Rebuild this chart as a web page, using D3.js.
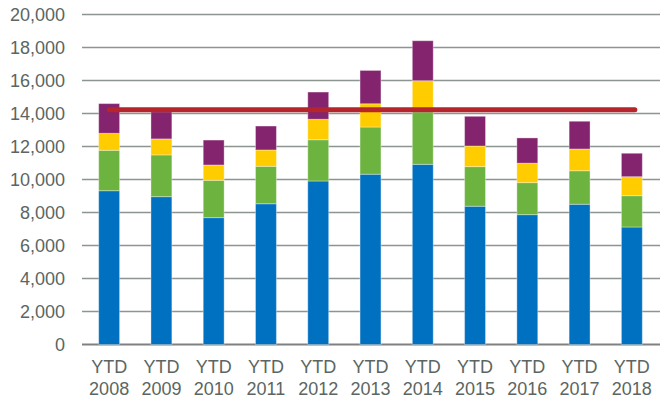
<!DOCTYPE html>
<html lang="en">
<head>
<meta charset="UTF-8">
<title>YTD stacked bars</title>
<script src="https://d3js.org/d3.v7.min.js"></script>
<style type="text/css">
    body { margin: 0; background: #fff; }
    text { font-family: "Liberation Sans", Arial, sans-serif; fill: #5b6662; }
</style>
</head>
<body>
<div id="chartArea"></div>
<script type="text/javascript">
    var years = ['2008', '2009', '2010', '2011', '2012', '2013', '2014', '2015', '2016', '2017', '2018'];
    // segment sizes, bottom to top
    var blue   = [9320, 8960, 7690, 8530, 9910, 10320, 10920, 8380, 7870, 8500, 7120];
    var green  = [2450, 2530, 2260, 2270, 2500, 2860, 3180, 2400, 1940, 2030, 1900];
    var yellow = [1030, 970, 930, 990, 1240, 1410, 1890, 1250, 1180, 1320, 1150];
    var purple = [1800, 1640, 1510, 1450, 1650, 2020, 2420, 1800, 1530, 1680, 1420];
    var average = 14230;
    var yTicks = [0, 2000, 4000, 6000, 8000, 10000, 12000, 14000, 16000, 18000, 20000];

    var colors = { blue: '#0070c0', green: '#6db33f', yellow: '#ffcc00', purple: '#84236e' };
    var keys = ['blue', 'green', 'yellow', 'purple'];

    var w = 660, h = 401;
    var plotLeft = 83, plotRight = 658, plotTop = 14.5, plotBottom = 344.5;

    var rows = years.map(function (y, i) {
        return { year: y, blue: blue[i], green: green[i], yellow: yellow[i], purple: purple[i] };
    });

    var svg = d3.select('#chartArea').append('svg')
        .attr('width', w)
        .attr('height', h);

    var xScale = d3.scaleBand()
        .domain(years)
        .range([plotLeft, plotRight])
        .paddingInner(0.6)
        .paddingOuter(0.3);

    var yScale = d3.scaleLinear()
        .domain([0, 20000])
        .range([plotBottom, plotTop]);

    // gridlines
    svg.append('g')
        .selectAll('line')
        .data(yTicks)
        .enter()
        .append('line')
        .attr('x1', plotLeft - 1)
        .attr('x2', w)
        .attr('y1', function (d) { return yScale(d); })
        .attr('y2', function (d) { return yScale(d); })
        .attr('stroke', function (d) { return d === 0 ? '#808080' : '#8c9590'; })
        .attr('stroke-width', function (d) { return d === 0 ? 2 : 1.5; });

    // y labels
    svg.append('g')
        .selectAll('text')
        .data(yTicks)
        .enter()
        .append('text')
        .attr('x', 65)
        .attr('y', function (d) { return yScale(d); })
        .attr('dy', '0.36em')
        .attr('text-anchor', 'end')
        .style('font-size', '18px')
        .text(function (d) { return d3.format(',')(d); });

    var series = d3.stack().keys(keys)(rows);

    svg.append('g')
        .selectAll('g')
        .data(series)
        .enter()
        .append('g')
        .attr('fill', function (d) { return colors[d.key]; })
        .selectAll('rect')
        .data(function (d) { return d; })
        .enter()
        .append('rect')
        .attr('x', function (d) { return xScale(d.data.year); })
        .attr('y', function (d) { return yScale(d[1]); })
        .attr('width', xScale.bandwidth())
        .attr('height', function (d) { return yScale(d[0]) - yScale(d[1]); })
        .attr('stroke', 'rgba(255,255,255,0.35)')
        .attr('stroke-width', 1);

    // average line
    svg.append('line')
        .attr('x1', xScale(years[0]) + xScale.bandwidth() / 2)
        .attr('x2', xScale(years[years.length - 1]) + xScale.bandwidth() / 2 + 3)
        .attr('y1', yScale(average))
        .attr('y2', yScale(average))
        .attr('stroke', '#b5252b')
        .attr('stroke-width', 5)
        .attr('stroke-linecap', 'round');

    // x labels
    var xl = svg.append('g')
        .selectAll('text')
        .data(years)
        .enter()
        .append('text')
        .attr('x', function (d) { return xScale(d) + xScale.bandwidth() / 2; })
        .attr('text-anchor', 'middle')
        .style('font-size', '18px');
    xl.append('tspan')
        .attr('x', function (d) { return xScale(d) + xScale.bandwidth() / 2; })
        .attr('y', 372.5)
        .text('YTD');
    xl.append('tspan')
        .attr('x', function (d) { return xScale(d) + xScale.bandwidth() / 2; })
        .attr('y', 395)
        .text(function (d) { return d; });
</script>
</body>
</html>
